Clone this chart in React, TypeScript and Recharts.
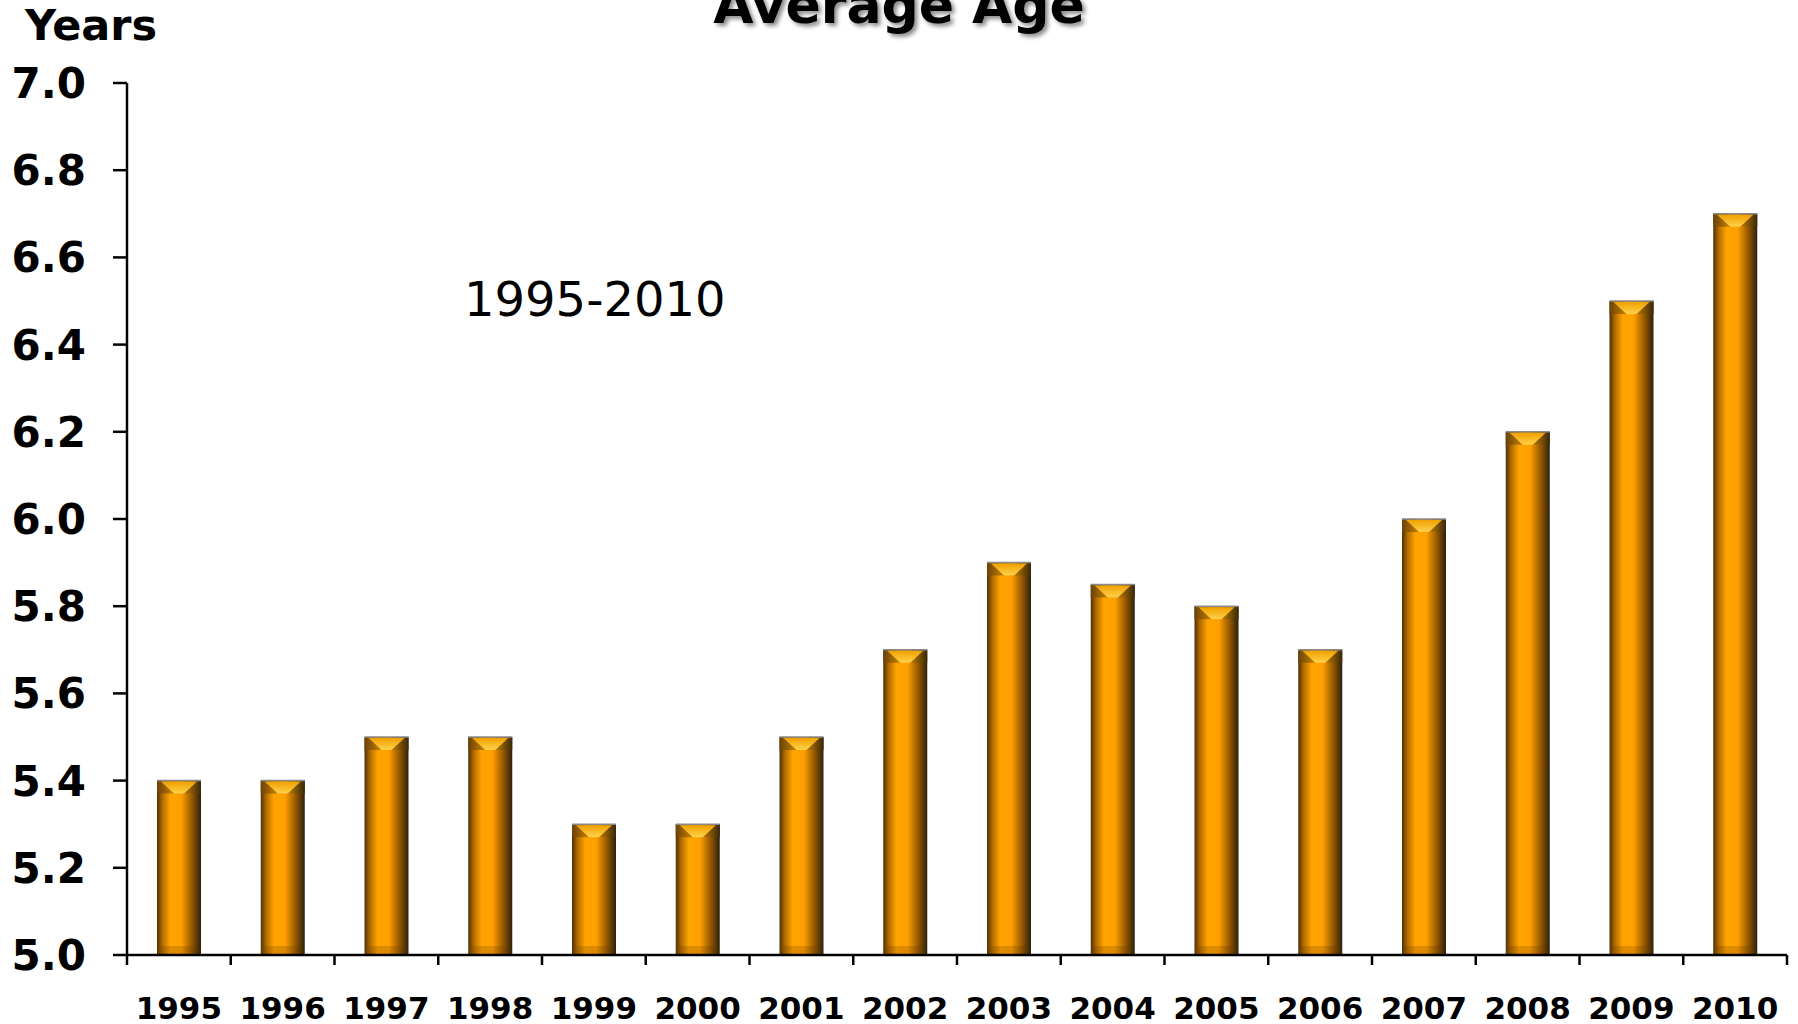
import { BarChart, Bar, XAxis, YAxis } from 'recharts';

// Average age 1995-2010, bars start at the 5.0 floor
const YEARS = ['1995', '1996', '1997', '1998', '1999', '2000', '2001', '2002', '2003', '2004', '2005', '2006', '2007', '2008', '2009', '2010'];
const AGES = [5.4, 5.4, 5.5, 5.5, 5.3, 5.3, 5.5, 5.7, 5.9, 5.85, 5.8, 5.7, 6.0, 6.2, 6.5, 6.7];
const Y_TICKS = [5.0, 5.2, 5.4, 5.6, 5.8, 6.0, 6.2, 6.4, 6.6, 6.8, 7.0];

const W = 1798;
const H = 1024;
const PLOT_LEFT = 127;
const PLOT_RIGHT = 11;
const FONT = '"DejaVu Sans", Verdana, sans-serif';

const chartData = YEARS.map((year, i) => ({ year, age: AGES[i] }));
const band = (W - PLOT_LEFT - PLOT_RIGHT) / YEARS.length;

const BarShape = (props: any) => {
  const { x, y, width, height } = props;
  if (!height || height <= 0) return null;
  const cx = x + width / 2;
  return (
    <g>
      <rect x={x} y={y} width={width} height={height} fill="url(#barH)" />
      <rect x={x + 3} y={y + height - 9} width={width - 6} height={9} fill="#5a3000" opacity={0.2} />
      <polygon points={`${x},${y} ${x + width},${y} ${x + width},${y + 13} ${x},${y + 13}`} fill="url(#capH)" />
      <polygon
        points={`${x + 4},${y + 1} ${x + width - 4},${y + 1} ${cx + 5},${y + 13} ${cx - 5},${y + 13}`}
        fill="url(#capV)"
      />
      <line x1={x} y1={y} x2={x + width} y2={y} stroke="#8a8a8a" strokeWidth={1.5} />
    </g>
  );
};

const XTick = (props: any) => {
  const { x, y, payload, index } = props;
  const left = x - band / 2;
  return (
    <g>
      <line x1={left} y1={y} x2={left} y2={y + 10} stroke="#000" strokeWidth={2.5} />
      {index === YEARS.length - 1 && (
        <line x1={left + band} y1={y} x2={left + band} y2={y + 10} stroke="#000" strokeWidth={2.5} />
      )}
      <text x={x} y={y + 64} textAnchor="middle" fontFamily={FONT} fontWeight="bold" fontSize={31} fill="#000">
        {payload.value}
      </text>
    </g>
  );
};

export default function App() {
  return (
    <div style={{ position: 'absolute', left: 0, top: 0, width: W, height: H, background: '#fff', overflow: 'hidden' }}>
      <svg width={0} height={0} style={{ position: 'absolute' }}>
        <defs>
          <linearGradient id="barH" x1="0" y1="0" x2="1" y2="0">
            <stop offset="0%" stopColor="#4e3006" />
            <stop offset="12%" stopColor="#b06a00" />
            <stop offset="30%" stopColor="#ffa300" />
            <stop offset="55%" stopColor="#ffa000" />
            <stop offset="78%" stopColor="#9c5c00" />
            <stop offset="100%" stopColor="#2c200c" />
          </linearGradient>
          <linearGradient id="capH" x1="0" y1="0" x2="1" y2="0">
            <stop offset="0%" stopColor="#6a4208" />
            <stop offset="50%" stopColor="#e89500" />
            <stop offset="100%" stopColor="#3a2808" />
          </linearGradient>
          <linearGradient id="capV" x1="0" y1="0" x2="0" y2="1">
            <stop offset="0%" stopColor="#f0a000" />
            <stop offset="100%" stopColor="#ffd24a" />
          </linearGradient>
        </defs>
      </svg>
      <BarChart
        width={W}
        height={H}
        data={chartData}
        margin={{ top: 83, right: PLOT_RIGHT, left: 0, bottom: 0 }}
        barCategoryGap={0}
      >
        <XAxis
          dataKey="year"
          height={69}
          tick={<XTick />}
          tickLine={false}
          tickSize={0}
          tickMargin={0}
          interval={0}
          axisLine={{ stroke: '#000', strokeWidth: 2.5 }}
        />
        <YAxis
          width={PLOT_LEFT}
          domain={[5, 7]}
          ticks={Y_TICKS}
          tickFormatter={(v: number) => v.toFixed(1)}
          tickSize={14}
          tickMargin={27}
          tick={{ fontFamily: FONT, fontWeight: 'bold', fontSize: 42, fill: '#000' }}
          tickLine={{ stroke: '#000', strokeWidth: 2.5 }}
          axisLine={{ stroke: '#000', strokeWidth: 2.5 }}
          allowDataOverflow
        />
        <Bar dataKey="age" barSize={44} shape={<BarShape />} isAnimationActive={false} />
      </BarChart>
      <svg width={W} height={H} style={{ position: 'absolute', left: 0, top: 0, pointerEvents: 'none' }}>
        <defs>
          <filter id="shadow" x="-10%" y="-50%" width="120%" height="200%">
            <feDropShadow dx={3} dy={3} stdDeviation={2} floodColor="#000" floodOpacity={0.45} />
          </filter>
        </defs>
        <text x={899} y={23} textAnchor="middle" fontFamily={FONT} fontWeight="bold" fontSize={52} fill="#000" filter="url(#shadow)">
          Average Age
        </text>
        <text x={25} y={40} fontFamily={FONT} fontWeight="bold" fontSize={43} fill="#000">
          Years
        </text>
        <text x={464} y={316} fontFamily={FONT} fontSize={48} fill="#000">
          1995-2010
        </text>
      </svg>
    </div>
  );
}
